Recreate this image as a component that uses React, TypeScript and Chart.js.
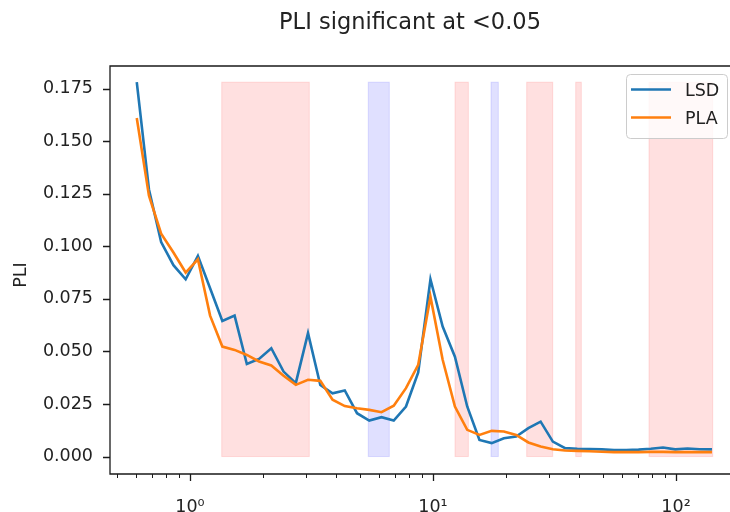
import React, { useEffect, useRef } from "react";
import { Chart, registerables } from "chart.js";

Chart.register(...registerables);

// Frequency bins (Hz), log-spaced
const FREQS = [
  0.604, 0.678, 0.761, 0.855, 0.96, 1.078, 1.21, 1.359, 1.526, 1.714, 1.924, 2.161,
  2.427, 2.725, 3.06, 3.438, 3.861, 4.335, 4.868, 5.467, 6.139, 6.894, 7.742, 8.694,
  9.763, 10.96, 12.31, 13.83, 15.53, 17.44, 19.58, 21.99, 24.69, 27.73, 31.13, 34.97,
  39.26, 44.09, 49.52, 55.6, 62.44, 70.11, 78.74, 88.42, 99.29, 111.5, 125.2, 140.6,
];

// Phase lag index per bin
const LSD = [
  0.178, 0.127, 0.102, 0.091, 0.0843, 0.0954, 0.08, 0.0645, 0.067, 0.044, 0.0464, 0.0515,
  0.0404, 0.0349, 0.0587, 0.034, 0.0301, 0.0314, 0.0206, 0.0171, 0.0187, 0.0171, 0.0238, 0.04,
  0.0843, 0.0618, 0.0475, 0.0238, 0.0079, 0.0064, 0.0087, 0.0095, 0.0135, 0.0166, 0.0071, 0.004,
  0.0037, 0.0036, 0.0034, 0.0031, 0.0031, 0.0033, 0.0037, 0.0043, 0.0034, 0.0038, 0.0035, 0.0034,
];

const PLA = [
  0.161, 0.124, 0.106, 0.097, 0.0875, 0.0938, 0.067, 0.0523, 0.0507, 0.0483, 0.0452, 0.0433,
  0.0384, 0.0341, 0.0365, 0.036, 0.027, 0.024, 0.023, 0.0222, 0.0211, 0.0242, 0.0325, 0.0436,
  0.076, 0.046, 0.0238, 0.0127, 0.0103, 0.0122, 0.0119, 0.0103, 0.0067, 0.0048, 0.0035, 0.0029,
  0.0027, 0.0025, 0.0023, 0.0021, 0.0021, 0.0021, 0.0022, 0.0022, 0.0021, 0.0021, 0.0021, 0.0021,
];

const SERIES_NAMES = ["LSD", "PLA"];
const SERIES_COLORS = ["#1f77b4", "#ff7f0e"];

// Significant frequency ranges (Hz): LSD > PLA in red, PLA > LSD in blue
const RED_BANDS: [number, number][] = [
  [1.351, 3.097],
  [12.32, 13.98],
  [24.3, 31.09],
  [38.66, 40.77],
  [77.43, 141.6],
];
const BLUE_BANDS: [number, number][] = [
  [5.416, 6.61],
  [17.33, 18.57],
];
const BAND_TOP = 0.178;

const Y_TICKS = [0, 0.025, 0.05, 0.075, 0.1, 0.125, 0.15, 0.175];
const X_MAJOR = [1, 10, 100];
const X_MINOR = [0.5, 0.6, 0.7, 0.8, 0.9, 2, 3, 4, 5, 6, 7, 8, 9, 20, 30, 40, 50, 60, 70, 80, 90];
const SUPERSCRIPTS = ["⁰", "¹", "²"];

const TITLE = "PLI significant at <0.05";
const Y_LABEL = "PLI";

const FONT = "DejaVu Sans";
const TEXT_COLOR = "#222222";
const TICK_SIZE = 17.5;
const TITLE_SIZE = 22.5;

const decorations = {
  id: "decorations",
  beforeDatasetsDraw(chart: any) {
    const { ctx, chartArea: a, scales } = chart;
    const x = scales.x;
    const y = scales.y;
    ctx.save();
    ctx.beginPath();
    ctx.rect(a.left, a.top, a.right - a.left, a.bottom - a.top);
    ctx.clip();
    const bands = (list: [number, number][], color: string) => {
      for (const [lo, hi] of list) {
        const x0 = x.getPixelForValue(lo);
        const x1 = x.getPixelForValue(hi);
        const y0 = y.getPixelForValue(BAND_TOP);
        const y1 = y.getPixelForValue(0);
        ctx.fillStyle = color;
        ctx.fillRect(x0, y0, x1 - x0, y1 - y0);
        ctx.strokeStyle = color;
        ctx.lineWidth = 1;
        ctx.strokeRect(x0, y0, x1 - x0, y1 - y0);
      }
    };
    bands(RED_BANDS, "rgba(255,0,0,0.12)");
    bands(BLUE_BANDS, "rgba(0,0,255,0.12)");
    ctx.restore();
  },
  afterDraw(chart: any) {
    const { ctx, chartArea: a, scales } = chart;
    const x = scales.x;
    const y = scales.y;
    ctx.save();

    // axes frame (left, top, bottom)
    ctx.strokeStyle = "#1a1a1a";
    ctx.lineWidth = 1.3;
    ctx.beginPath();
    ctx.moveTo(a.right + 2, a.top);
    ctx.lineTo(a.left, a.top);
    ctx.lineTo(a.left, a.bottom);
    ctx.lineTo(a.right + 2, a.bottom);
    ctx.stroke();

    // tick marks
    ctx.lineWidth = 1.3;
    ctx.beginPath();
    for (const v of Y_TICKS) {
      const py = Math.round(y.getPixelForValue(v)) + 0.5;
      ctx.moveTo(a.left - 7, py);
      ctx.lineTo(a.left, py);
    }
    for (const v of X_MAJOR) {
      const px = Math.round(x.getPixelForValue(v)) + 0.5;
      ctx.moveTo(px, a.bottom);
      ctx.lineTo(px, a.bottom + 7);
    }
    ctx.stroke();
    ctx.lineWidth = 1;
    ctx.beginPath();
    for (const v of X_MINOR) {
      const px = Math.round(x.getPixelForValue(v)) + 0.5;
      ctx.moveTo(px, a.bottom);
      ctx.lineTo(px, a.bottom + 4);
    }
    ctx.stroke();

    // title
    ctx.fillStyle = TEXT_COLOR;
    ctx.font = `${TITLE_SIZE}px "${FONT}"`;
    ctx.textAlign = "center";
    ctx.textBaseline = "alphabetic";
    ctx.fillText(TITLE, 410, 28.5);

    // y axis label
    ctx.save();
    ctx.translate(21.5, 275);
    ctx.rotate(-Math.PI / 2);
    ctx.font = `${TICK_SIZE}px "${FONT}"`;
    ctx.textAlign = "center";
    ctx.textBaseline = "middle";
    ctx.fillText(Y_LABEL, 0, 0);
    ctx.restore();

    // legend
    const lx = 626;
    const ly = 74;
    const lw = 101;
    const lh = 64;
    ctx.beginPath();
    ctx.roundRect(lx + 0.5, ly + 0.5, lw, lh, 4);
    ctx.fillStyle = "rgba(255,255,255,0.8)";
    ctx.fill();
    ctx.strokeStyle = "#cccccc";
    ctx.lineWidth = 1;
    ctx.stroke();
    ctx.font = `${TICK_SIZE}px "${FONT}"`;
    ctx.textAlign = "left";
    ctx.textBaseline = "alphabetic";
    SERIES_NAMES.forEach((name, i) => {
      const cy = ly + 15.5 + i * 28;
      ctx.strokeStyle = SERIES_COLORS[i];
      ctx.lineWidth = 2.6;
      ctx.beginPath();
      ctx.moveTo(lx + 5, cy);
      ctx.lineTo(lx + 45, cy);
      ctx.stroke();
      ctx.fillStyle = TEXT_COLOR;
      ctx.fillText(name, lx + 59, cy + 6.8);
    });

    ctx.restore();
  },
};

export default function App() {
  const ref = useRef<HTMLCanvasElement>(null);

  useEffect(() => {
    const canvas = ref.current;
    if (!canvas) return;
    const toPoints = (ys: number[]) => FREQS.map((f, i) => ({ x: f, y: ys[i] }));
    const chart = new Chart(canvas, {
      type: "line",
      data: {
        datasets: [
          {
            label: SERIES_NAMES[0],
            data: toPoints(LSD),
            borderColor: SERIES_COLORS[0],
            borderWidth: 2.6,
            pointRadius: 0,
            tension: 0,
            fill: false,
            order: 1,
          },
          {
            label: SERIES_NAMES[1],
            data: toPoints(PLA),
            borderColor: SERIES_COLORS[1],
            borderWidth: 2.6,
            pointRadius: 0,
            tension: 0,
            fill: false,
            order: 0,
          },
        ],
      },
      options: {
        responsive: false,
        devicePixelRatio: 1,
        animation: false,
        events: [],
        layout: { padding: { top: 66, left: 0, right: 0, bottom: 0 } },
        plugins: {
          legend: { display: false },
          title: { display: false },
          tooltip: { enabled: false },
        },
        scales: {
          x: {
            type: "logarithmic",
            min: 0.4687,
            max: 166.8,
            grid: { display: false, drawTicks: false },
            border: { display: false },
            afterBuildTicks: (scale: any) => {
              scale.ticks = X_MAJOR.map((v) => ({ value: v, major: true }));
            },
            afterFit: (scale: any) => {
              scale.height = 38;
              scale.paddingLeft = 0;
              scale.paddingRight = 0;
            },
            ticks: {
              autoSkip: false,
              maxRotation: 0,
              padding: 23,
              color: TEXT_COLOR,
              font: { family: FONT, size: TICK_SIZE },
              callback: (v: any) => "10" + SUPERSCRIPTS[Math.round(Math.log10(Number(v)))],
            },
          },
          y: {
            type: "linear",
            min: -0.0083,
            max: 0.1857,
            grid: { display: false, drawTicks: false },
            border: { display: false },
            afterBuildTicks: (scale: any) => {
              scale.ticks = Y_TICKS.map((v) => ({ value: v }));
            },
            afterFit: (scale: any) => {
              scale.width = 110;
              scale.paddingTop = 0;
              scale.paddingBottom = 0;
            },
            ticks: {
              padding: 17,
              color: TEXT_COLOR,
              font: { family: FONT, size: TICK_SIZE },
              callback: (v: any) => Number(v).toFixed(3),
            },
          },
        },
      },
      plugins: [decorations],
    });
    return () => chart.destroy();
  }, []);

  return (
    <div style={{ position: "absolute", left: 0, top: 0, width: 730, height: 512, background: "#ffffff" }}>
      <canvas ref={ref} width={730} height={512} style={{ display: "block" }} />
    </div>
  );
}
